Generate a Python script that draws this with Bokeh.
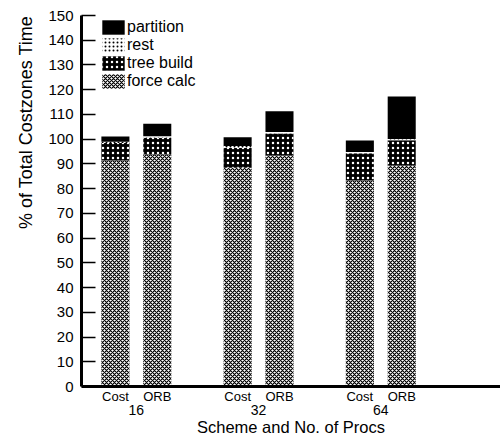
from bokeh.plotting import figure
from bokeh.models import (Range1d, FixedTicker, LinearAxis, Legend, LegendItem,
                          ColumnDataSource, Title)
from bokeh.embed import file_html
from bokeh.resources import INLINE

# ---- data ----
groups = ["16", "32", "64"]
schemes = ["Cost", "ORB"]
force_calc = [91.4, 93.8, 88.4, 93.4, 83.3, 89.4]
tree_build = [7.0, 6.8, 8.0, 8.9, 11.0, 10.2]
rest = [0.6, 0.6, 0.8, 0.6, 0.5, 0.5]
partition = [2.1, 5.0, 3.6, 8.4, 4.7, 17.2]
y_ticks = list(range(0, 151, 10))

series_names = ["force calc", "tree build", "rest", "partition"]

# layout of categories on a numeric axis (group gap in bar-slot units)
GAP = 0.92
xs, sub_labels, grp_centers = [], [], []
for gi, g in enumerate(groups):
    base = gi * (len(schemes) + GAP)
    for si, s in enumerate(schemes):
        xs.append(base + si + 0.5)
        sub_labels.append(s)
    grp_centers.append(base + len(schemes) / 2.0)

source = ColumnDataSource(dict(x=xs, force_calc=force_calc, tree_build=tree_build,
                               rest=rest, partition=partition))

FONT = "Liberation Sans"

p = figure(frame_width=419, frame_height=371, output_backend="svg",
           toolbar_location=None, x_range=Range1d(-0.31, 9.70),
           y_range=Range1d(0, 150), x_axis_type=None,
           min_border_left=81, min_border_top=15, min_border_right=0,
           min_border_bottom=0)
p.outline_line_color = None
p.xgrid.visible = False
p.ygrid.visible = False
p.background_fill_color = "white"

renderers = p.vbar_stack(
    ["force_calc", "tree_build", "rest", "partition"], x="x", width=0.67,
    source=source,
    fill_color=["white", "black", "white", "black"],
    hatch_pattern=["diagonal_cross", "dot", "dot", " "],
    hatch_color=["black", "white", "black", "black"],
    hatch_scale=[4, 5, 4, 4],
    hatch_weight=[1.2, 2.0, 0.8, 1],
    line_color=None)

# legend (partition on top)
items = [LegendItem(label=series_names[i], renderers=[renderers[i]]) for i in [3, 2, 1, 0]]
legend = Legend(items=items, location=(18, 296), glyph_width=28, glyph_height=18,
                label_height=18, label_standoff=0, spacing=0, padding=0, margin=0,
                border_line_color=None, background_fill_alpha=0,
                label_text_font=FONT, label_text_font_size="16px",
                label_text_color="black")
p.add_layout(legend, "center")

# y axis
ya = p.yaxis[0]
ya.ticker = FixedTicker(ticks=y_ticks)
ya.minor_tick_line_color = None
ya.major_tick_in = 14
ya.major_tick_out = 0
ya.minor_tick_in = 0
ya.minor_tick_out = 0
ya.major_tick_line_width = 1.5
ya.axis_line_width = 3
ya.major_label_standoff = 8
ya.major_label_text_font = FONT
ya.major_label_text_font_size = "15px"
ya.major_label_text_color = "black"

# y axis title, aligned to the top of the frame
ytitle = Title(text="% of Total Costzones Time", align="right",
               text_font=FONT, text_font_size="18px", text_font_style="normal",
               text_color="black", standoff=20)
p.add_layout(ytitle, "left")

# x axis: schemes
xa = LinearAxis(ticker=FixedTicker(ticks=xs),
                major_label_overrides={x: s for x, s in zip(xs, sub_labels)})
xa.axis_line_width = 3
xa.major_tick_line_color = None
xa.minor_tick_line_color = None
xa.major_tick_in = 0
xa.major_tick_out = 0
xa.minor_tick_in = 0
xa.minor_tick_out = 0
xa.major_label_standoff = 2
xa.major_label_text_font = FONT
xa.major_label_text_font_size = "13px"
xa.major_label_text_color = "black"
p.add_layout(xa, "below")

# x axis: groups
xg = LinearAxis(ticker=FixedTicker(ticks=grp_centers),
                major_label_overrides={x: g for x, g in zip(grp_centers, groups)})
xg.axis_line_color = None
xg.major_tick_line_color = None
xg.minor_tick_line_color = None
xg.major_tick_in = 0
xg.major_tick_out = 0
xg.minor_tick_in = 0
xg.minor_tick_out = 0
xg.major_label_standoff = -2
xg.major_label_text_font = FONT
xg.major_label_text_font_size = "14px"
xg.major_label_text_color = "black"
xg.axis_label = "Scheme and No. of Procs"
xg.axis_label_text_font = FONT
xg.axis_label_text_font_size = "16.5px"
xg.axis_label_text_font_style = "normal"
xg.axis_label_text_color = "black"
xg.axis_label_standoff = 0
p.add_layout(xg, "below")

open("out.html", "w").write(file_html(p, INLINE))
